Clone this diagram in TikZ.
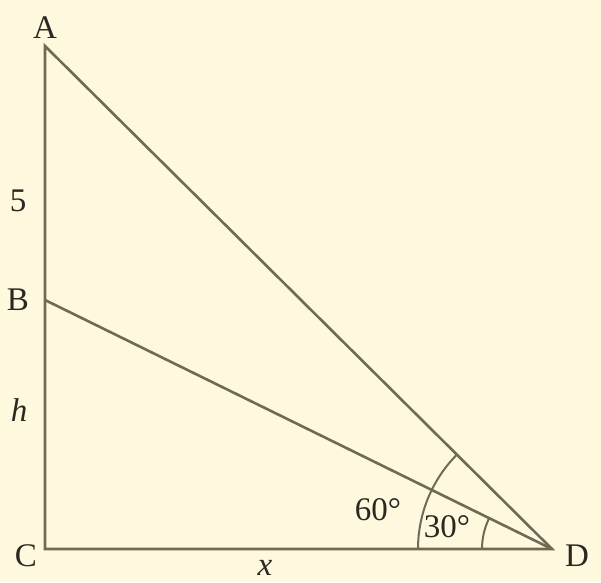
\documentclass[tikz,border=0pt]{standalone}
\usepackage{fontspec}
\setmainfont{Liberation Serif}
\definecolor{bg}{HTML}{FEF8DE}
\definecolor{ln}{HTML}{6E6A55}
\definecolor{tx}{HTML}{2A2820}
\begin{document}
\begin{tikzpicture}[x=1pt,y=-1pt,
  edge/.style={draw=ln,line width=2.6pt},
  arcline/.style={draw=ln,line width=2pt},
  lbl/.style={text=tx,font=\fontsize{33}{33}\selectfont,inner sep=0pt}]
\fill[bg] (0,0) rectangle (601,582);
\useasboundingbox (0,0) rectangle (601,582);
\coordinate (A) at (45,46);
\coordinate (B) at (45,300);
\coordinate (C) at (45,549);
\coordinate (D) at (552,549);
\draw[edge,line join=miter] (A) -- (C) -- (D) -- cycle;
\draw[edge] (B) -- (D);
% arcs
\path (D) ++(180:134) coordinate (o1);
\path (D) ++(180:70) coordinate (i1);
\draw[arcline] (o1) arc[start angle=180,end angle={180+44.78},radius=134];
\draw[arcline] (i1) arc[start angle=180,end angle={180+26.2},radius=70];
\node[lbl] (lA) at (45,28) {A};
\node[lbl] (l5) at (18,201) {5};
\node[lbl] (lB) at (18,300) {B};
\node[lbl] (lh) at (19,410) {\itshape h};
\node[lbl] (lC) at (26,556) {C};
\node[lbl] (lx) at (265,568) {\itshape x};
\node[lbl] (lD) at (577,556) {D};
\node[lbl] (l60) at (378,510) {60°};
\node[lbl] (l30) at (447,527) {30°};
\end{tikzpicture}
\end{document}
